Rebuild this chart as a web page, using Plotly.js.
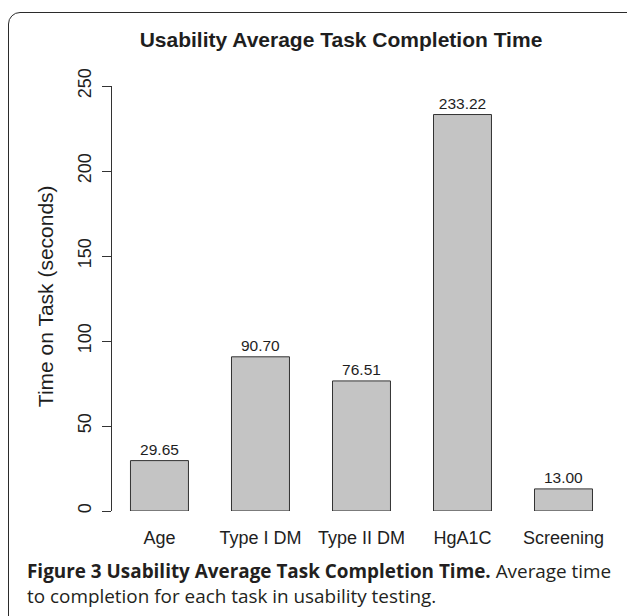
<!DOCTYPE html>
<html>
<head>
<meta charset="utf-8">
<script src="https://cdn.plot.ly/plotly-3.0.1.min.js"></script>
<style>
  html, body { margin:0; padding:0; width:627px; height:616px; overflow:hidden; background:#fff; }
  #frame { position:absolute; left:8px; top:12px; width:680px; height:680px;
           border:1.5px solid #2b2b2b; border-top-left-radius:12px; }
  #chart { position:absolute; left:0; top:0; width:627px; height:616px; }
</style>
</head>
<body>
<div id="frame"></div>
<div id="chart"></div>
<script>
// ---- data ----
const categories = ['Age', 'Type I DM', 'Type II DM', 'HgA1C', 'Screening'];
const times = [29.65, 90.70, 76.51, 233.22, 13.00];
const yTickVals = [0, 50, 100, 150, 200, 250];
const chartTitle = 'Usability Average Task Completion Time';
const yTitle = 'Time on Task (seconds)';
const captionBold = 'Figure 3 Usability Average Task Completion Time.';
const captionLine1 = 'Average time';
const captionLine2 = 'to completion for each task in usability testing.';

const SANS = '"Liberation Sans", Arial, Helvetica, sans-serif';
const CAP = '"Open Sans", "Noto Sans", sans-serif';
const INK = '#1e1e1e';

// plot geometry helpers (pixel -> paper)
const W = 627, H = 616;
const M = {l:112, r:13, t:86, b:105.3};
const pw = W - M.l - M.r, ph = H - M.t - M.b;
const px = x => (x - M.l) / pw;
const py = y => (H - M.b - y) / ph;

const trace = {
  type: 'bar',
  x: categories,
  y: times,
  marker: {color: '#c4c4c4', line: {color: '#333333', width: 1}},
  text: times.map(v => v.toFixed(2)),
  textposition: 'outside',
  textfont: {family: SANS, size: 15.5, color: INK},
  constraintext: 'none',
  cliponaxis: false,
  hoverinfo: 'none'
};

const layout = {
  width: W, height: H,
  margin: M,
  paper_bgcolor: 'rgba(0,0,0,0)',
  plot_bgcolor: 'rgba(0,0,0,0)',
  showlegend: false,
  bargap: 0.426,
  font: {family: SANS, color: INK},
  title: {
    text: '<b>' + chartTitle + '</b>',
    font: {family: SANS, size: 21, color: INK},
    xref: 'container', yref: 'container',
    x: 341 / W, xanchor: 'center',
    y: 1 - 40 / H, yanchor: 'middle'
  },
  xaxis: {
    type: 'category',
    range: [-0.47, 4.5],
    showline: false, showgrid: false, zeroline: false,
    ticks: '',
    tickfont: {family: SANS, size: 18, color: INK},
    ticklabelstandoff: 14
  },
  yaxis: {
    range: [0, 250],
    tickvals: yTickVals,
    ticktext: yTickVals.map(String),
    showline: true, linecolor: '#333333', linewidth: 1,
    ticks: 'outside', ticklen: 9, tickcolor: '#333333', tickwidth: 1,
    tickangle: -90,
    tickfont: {family: SANS, size: 18, color: INK},
    showgrid: false, zeroline: false,
    ticklabelstandoff: 4
  },
  annotations: [
    {
      text: yTitle, textangle: -90,
      xref: 'paper', yref: 'paper',
      x: px(45), y: py(296), xanchor: 'center', yanchor: 'middle',
      showarrow: false,
      font: {family: SANS, size: 21, color: INK}
    },
    {
      text: '<b>' + captionBold + '</b> ' + captionLine1 + '<br>' + captionLine2,
      xref: 'paper', yref: 'paper',
      x: px(25), y: py(583), xanchor: 'left', yanchor: 'middle',
      showarrow: false, align: 'left',
      font: {family: CAP, size: 18.9, color: '#231f20'}
    }
  ]
};

Plotly.newPlot('chart', [trace], layout, {staticPlot: true, displayModeBar: false});
</script>
</body>
</html>
